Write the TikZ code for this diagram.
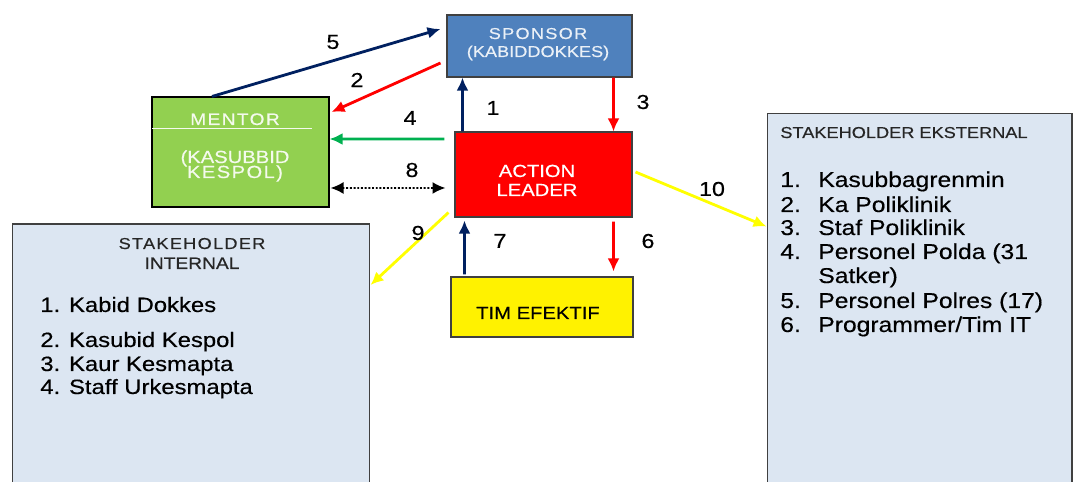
\documentclass[tikz,border=0pt]{standalone}
\usepackage{fontspec}
\setmainfont{Liberation Sans}[FakeStretch=1.15, FakeBold=0.4]
\usetikzlibrary{arrows.meta}
\usepackage{xcolor}
\definecolor{sponsorblue}{HTML}{4F81BD}
\definecolor{mentorgreen}{HTML}{92D050}
\definecolor{stakeblue}{HTML}{DCE6F2}
\definecolor{navy}{HTML}{002060}
\definecolor{arrowred}{HTML}{FF0000}
\definecolor{arrowgreen}{HTML}{00B050}
\definecolor{arrowyellow}{HTML}{FFFF00}
\newcommand{\sz}[1]{\fontsize{#1}{#1}\selectfont}
\newcommand{\spaced}{\addfontfeature{LetterSpace=8}}

\begin{document}
\begin{tikzpicture}[x=0.02cm, y=-0.02cm, >={Latex[length=2.6mm,width=2.4mm]},
    box/.style={draw=black!75, line width=0.6pt, inner sep=0pt},
    lbl/.style={font=\sz{11.5}},
    boxtext/.style={anchor=base},
    listitem/.style={anchor=base west, inner sep=0pt},
    conn/.style={->, line width=1.6pt}]
  \useasboundingbox (0,0) rectangle (1078,482);
  \clip (0,0) rectangle (1078,482);

  % boxes
  \node [box, fill=sponsorblue, minimum width=3.7cm, minimum height=1.24cm, name=sponsor] at (539.5,46) {};
  \node [box, fill=mentorgreen, draw=black, minimum width=3.54cm, minimum height=2.2cm, name=mentor] at (240.5,152) {};
  \node [box, fill=red, minimum width=3.54cm, minimum height=1.7cm, name=action] at (543.5,174.5) {};
  \node [box, fill=yellow, minimum width=3.64cm, minimum height=1.2cm, name=tim] at (542,307) {};
  \node [box, fill=stakeblue, minimum width=7.16cm, minimum height=5.52cm, name=internal] at (191,362) {};
  \node [box, fill=stakeblue, minimum width=6.1cm, minimum height=7.74cm, name=external] at (919.5,306.5) {};

  % box texts
  \node [boxtext, text=white!88!sponsorblue, font=\sz{9}\spaced, name=sponsora] at (538,39) {SPONSOR};
  \node [boxtext, text=white!88!sponsorblue, font=\sz{9}, name=sponsorb] at (538,57) {(KABIDDOKKES)};
  \node [boxtext, text=white!90!mentorgreen, font=\sz{9.5}\spaced, name=mentora] at (235,125) {MENTOR};
  \draw [white!90!mentorgreen, line width=0.8pt] ([shift={(0.02cm,-0.64cm)}]mentor.north west) -- ++(160,0);
  \node [boxtext, text=white!90!mentorgreen, font=\sz{10}, name=mentorb] at (235,163) {(KASUBBID};
  \node [boxtext, text=white!90!mentorgreen, font=\sz{10}\spaced, name=mentorc] at (235,178) {KESPOL)};
  \node [boxtext, text=white, font=\sz{10}, name=actiona] at (537,177) {ACTION};
  \node [boxtext, text=white, font=\sz{10}, name=actionb] at (537,196) {LEADER};
  \node [boxtext, font=\sz{10}, name=tima] at (538,319) {TIM EFEKTIF};

  % stakeholder internal
  \node [boxtext, text=black!85, font=\sz{9}\spaced, name=inta] at (192,249) {STAKEHOLDER};
  \node [boxtext, text=black!85, font=\sz{9.5}, name=intb] at (192,269) {INTERNAL};
  \node [listitem, font=\sz{11.8}, name=int1] at (40,312) {1. Kabid Dokkes};
  \node [listitem, font=\sz{11.8}, name=int2] at (40,347) {2. Kasubid Kespol};
  \node [listitem, font=\sz{11.8}, name=int3] at (40,371) {3. Kaur Kesmapta};
  \node [listitem, font=\sz{11.8}, name=int4] at (40,394) {4. Staff Urkesmapta};

  % stakeholder eksternal
  \node [listitem, text=black!85, font=\sz{9}, name=exta] at (780,138) {STAKEHOLDER EKSTERNAL};
  \node [listitem, font=\sz{12.2}, name=ext1] at (780,187) {\makebox[0.76cm][l]{1.}Kasubbagrenmin};
  \node [listitem, font=\sz{12.2}, name=ext2] at (780,212) {\makebox[0.76cm][l]{2.}Ka Poliklinik};
  \node [listitem, font=\sz{12.2}, name=ext3] at (780,235) {\makebox[0.76cm][l]{3.}Staf Poliklinik};
  \node [listitem, font=\sz{12.2}, name=ext4] at (780,259) {\makebox[0.76cm][l]{4.}Personel Polda (31};
  \node [listitem, font=\sz{12.2}, name=ext4b] at (780,283) {\makebox[0.76cm][l]{}Satker)};
  \node [listitem, font=\sz{12.2}, name=ext5] at (780,308) {\makebox[0.76cm][l]{5.}Personel Polres (17)};
  \node [listitem, font=\sz{12.2}, name=ext6] at (780,332) {\makebox[0.76cm][l]{6.}Programmer/Tim IT};

  % connectors
  \draw [conn, navy] ([xshift=0.16cm]action.north west) -- ([xshift=0.32cm]sponsor.south west);
  \draw [conn, arrowred] ([xshift=-0.12cm,yshift=-0.34cm]sponsor.west) -- ([xshift=0.04cm,yshift=0.8cm]mentor.east);
  \draw [conn, arrowred] ([xshift=-0.38cm]sponsor.south east) -- ([xshift=-0.38cm]action.north east);
  \draw [conn, arrowgreen] ([xshift=-0.2cm,yshift=0.71cm]action.west) -- ([yshift=0.26cm]mentor.east);
  \draw [conn, navy] ([xshift=-0.57cm]mentor.north) -- ([xshift=-0.12cm,yshift=0.34cm]sponsor.west);
  \draw [conn, arrowred] ([xshift=-0.38cm,yshift=-0.08cm]action.south east) -- ([xshift=-0.4cm,yshift=0.1cm]tim.north east);
  \draw [conn, navy] ([xshift=0.28cm,yshift=0.04cm]tim.north west) -- ([xshift=0.2cm,yshift=-0.06cm]action.south west);
  \draw [<->, densely dotted, line width=1.1pt] ([xshift=0.02cm,yshift=-0.72cm]mentor.east) -- ([xshift=-0.18cm,yshift=-0.27cm]action.west);
  \draw [conn, arrowyellow] ([xshift=-0.12cm,yshift=0.1cm]action.south west) -- ([yshift=1.54cm]internal.east);
  \draw [conn, arrowyellow] ([xshift=0.06cm,yshift=0.05cm]action.east) -- ([yshift=1.6cm]external.west);

  % connector labels
  \node [lbl, name=n1] at (493,108) {1};
  \node [lbl, name=n2] at (357,80) {2};
  \node [lbl, name=n3] at (643,102) {3};
  \node [lbl, name=n4] at (410,118) {4};
  \node [lbl, name=n5] at (333,42) {5};
  \node [lbl, name=n6] at (648,241) {6};
  \node [lbl, name=n7] at (500,241) {7};
  \node [lbl, name=n8] at (412,170) {8};
  \node [lbl, name=n9] at (418,233) {9};
  \node [lbl, name=n10] at (712,189) {10};
\end{tikzpicture}
\end{document}
